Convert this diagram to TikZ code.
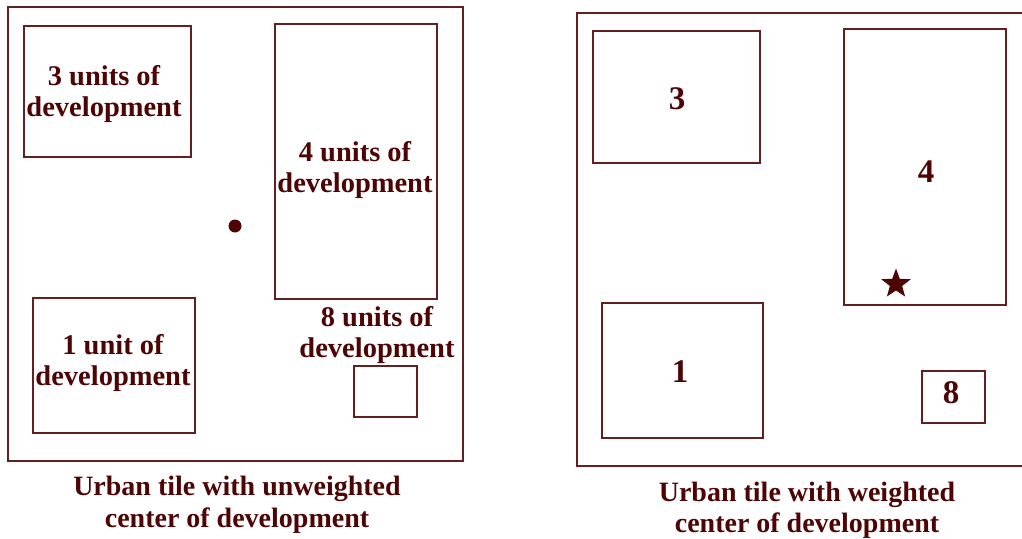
\documentclass[tikz,border=0pt]{standalone}
\usepackage{fontspec}
\setmainfont{Liberation Serif}
\usetikzlibrary{shapes.geometric}
\definecolor{maroonline}{RGB}{100,32,32}
\definecolor{maroontext}{RGB}{78,4,4}
\tikzset{
  tile/.style={draw=maroonline, line width=1.6pt},
  lot/.style={draw=maroonline, line width=1.6pt, inner sep=0pt},
  lbl/.style={text=maroontext, font=\fontsize{28.5}{31}\selectfont\bfseries, align=center, inner sep=0pt},
  captext/.style={text=maroontext, font=\fontsize{28}{31.5}\selectfont\bfseries, align=center, inner sep=0pt},
  num/.style={text=maroontext, font=\fontsize{33}{36}\selectfont\bfseries, inner sep=0pt},
}
\begin{document}
\begin{tikzpicture}[x=1pt,y=-1pt]
\useasboundingbox (0,0) rectangle (1022,538);
\clip (0,0) rectangle (1022,538);
% left tile
\draw[tile] (8,7) rectangle (463,461);
\node[lot, minimum width=167pt, minimum height=131pt] (L3) at (107.5,91.5) {};
\node[lot, minimum width=162pt, minimum height=275pt] (L4) at (356,161.5) {};
\node[lot, minimum width=162pt, minimum height=135pt] (L1) at (114,365.5) {};
\node[lot, minimum width=63pt, minimum height=51pt] (L8) at (385.5,391.5) {};
\node[lbl] (t3) at (104,94) {3 units of\\development};
\node[lbl] (t4) at (355,170) {4 units of\\development};
\node[lbl] (t1) at (113,363) {1 unit of\\development};
\node[lbl] (t8) at (377,335) {8 units of\\development};
\node[circle, fill=maroontext, minimum size=13pt, inner sep=0pt] (dot) at (235,226) {};
\node[captext] (capL) at (237,505) {Urban tile with unweighted\\center of development};
% right tile
\draw[tile] (577,13) rectangle (1030,466);
\node[lot, minimum width=167pt, minimum height=132pt] (R3) at (676.5,97) {};
\node[num] (n3) at (677,99) {3};
\node[lot, minimum width=162pt, minimum height=276pt] (R4) at (925,167) {};
\node[num] (n4) at (926,172) {4};
\node[lot, minimum width=161pt, minimum height=135pt] (R1) at (682.5,370.5) {};
\node[num] (n1) at (680,372) {1};
\node[lot, minimum width=63pt, minimum height=52pt] (R8) at (953.5,397) {};
\node[num] (n8) at (951,393) {8};
\node[star, star points=5, star point ratio=2.4, fill=maroontext, minimum size=31pt, inner sep=0pt] (st) at (896,284) {};
\node[captext] (capR) at (807,510.5) {Urban tile with weighted\\center of development};
\end{tikzpicture}
\end{document}
